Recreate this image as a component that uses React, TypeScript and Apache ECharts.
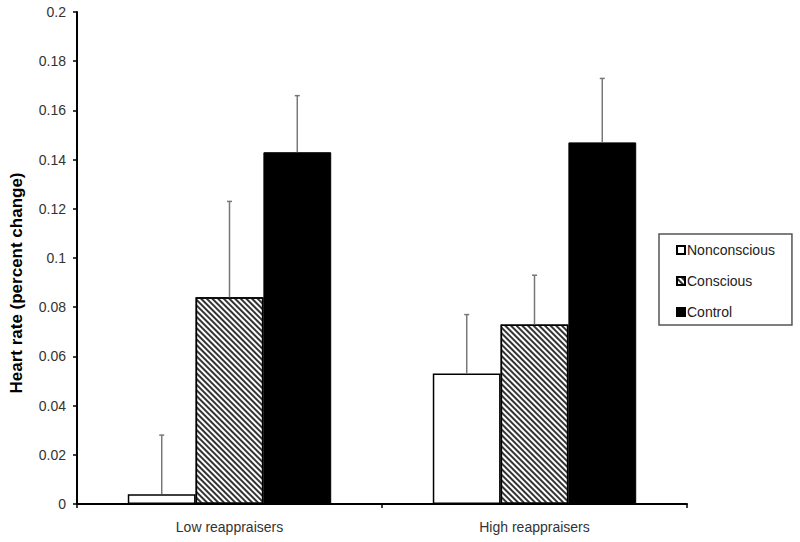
import React, { useEffect, useRef } from "react";
import * as echarts from "echarts";

const categories = ["Low reappraisers", "High reappraisers"];
const seriesNames = ["Nonconscious", "Conscious", "Control"];
const nonconscious = [0.004, 0.053];
const conscious = [0.084, 0.073];
const control = [0.143, 0.147];
const nonconsciousErr = [0.024, 0.024];
const consciousErr = [0.039, 0.020];
const controlErr = [0.023, 0.026];
const yTicks = { min: 0, max: 0.2, interval: 0.02 };

const FONT = "'Liberation Sans', Arial, sans-serif";

export default function App() {
  const ref = useRef<HTMLDivElement>(null);
  useEffect(() => {
    if (!ref.current) return;
    const chart = echarts.init(ref.current, undefined, { renderer: "svg" });
    const values = [nonconscious, conscious, control];
    const errs = [nonconsciousErr, consciousErr, controlErr];
    const errData: number[][] = [];
    values.forEach((vals, s) => {
      vals.forEach((v, c) => errData.push([c, v, errs[s][c], s]));
    });
    const hatch = {
      symbol: "rect",
      dashArrayX: [1, 0],
      dashArrayY: [1.3, 1.7],
      rotation: Math.PI / 4,
      color: "#333",
      symbolSize: 1,
    };
    const option: any = {
      animation: false,
      backgroundColor: "#fff",
      textStyle: { fontFamily: FONT },
      grid: { left: 76, right: 113, top: 12, bottom: 38, containLabel: false },
      legend: {
        orient: "vertical",
        left: 659,
        top: 234,
        data: seriesNames,
        icon: "rect",
        itemWidth: 8,
        itemHeight: 8,
        itemGap: 17,
        padding: [9, 17, 6, 17],
        borderColor: "#555",
        borderWidth: 1.5,
        textStyle: { fontFamily: FONT, fontSize: 14, color: "#222", padding: [0, 0, 0, -3] },
      },
      xAxis: {
        type: "category",
        data: categories,
        axisLine: { lineStyle: { color: "#000", width: 2 } },
        axisTick: { show: true, length: 4, alignWithLabel: false, lineStyle: { color: "#000", width: 1.5 } },
        axisLabel: { fontFamily: FONT, fontSize: 14, color: "#333", margin: 16 },
        splitLine: { show: false },
      },
      yAxis: {
        type: "value",
        min: yTicks.min,
        max: yTicks.max,
        interval: yTicks.interval,
        name: "Heart rate (percent change)",
        nameLocation: "middle",
        nameGap: 52,
        nameRotate: 90,
        nameTextStyle: {
          fontFamily: FONT,
          fontSize: 17,
          fontWeight: "bold",
          color: "#000",
          padding: [0, 50, 0, 0],
        },
        axisLine: { show: true, lineStyle: { color: "#000", width: 2 } },
        axisTick: { show: true, length: 4, lineStyle: { color: "#000", width: 1.5 } },
        axisLabel: { fontFamily: FONT, fontSize: 14, color: "#333", margin: 11 },
        splitLine: { show: false },
      },
      series: [
        {
          name: seriesNames[0],
          type: "bar",
          data: nonconscious,
          barGap: "0%",
          barCategoryGap: "33.3%",
          itemStyle: { color: "#fff", borderColor: "#000", borderWidth: 1.5 },
        },
        {
          name: seriesNames[1],
          type: "bar",
          data: conscious,
          barGap: "0%",
          barCategoryGap: "33.3%",
          itemStyle: { color: "#fff", borderColor: "#000", borderWidth: 1.5, decal: hatch },
        },
        {
          name: seriesNames[2],
          type: "bar",
          data: control,
          barGap: "0%",
          barCategoryGap: "33.3%",
          itemStyle: { color: "#000", borderColor: "#000", borderWidth: 1 },
        },
        {
          name: "err",
          type: "custom",
          data: errData,
          z: 5,
          renderItem: (params: any, api: any) => {
            const c = api.value(0);
            const v = api.value(1);
            const e = api.value(2);
            const s = api.value(3);
            const catW = api.size([1, 0])[0];
            const barW = (catW * (1 - 1 / 3)) / 3;
            const base = api.coord([c, v]);
            const top = api.coord([c, v + e]);
            const x = base[0] + (s - 1) * barW;
            const st = { stroke: "#777", lineWidth: 1.5 };
            return {
              type: "group",
              children: [
                { type: "line", shape: { x1: x, y1: base[1], x2: x, y2: top[1] }, style: st },
                { type: "line", shape: { x1: x - 2.5, y1: top[1], x2: x + 2.5, y2: top[1] }, style: st },
              ],
            };
          },
        },
      ],
    };
    chart.setOption(option);
    return () => chart.dispose();
  }, []);
  return <div ref={ref} style={{ width: 800, height: 542, position: "absolute", left: 0, top: 0 }} />;
}
